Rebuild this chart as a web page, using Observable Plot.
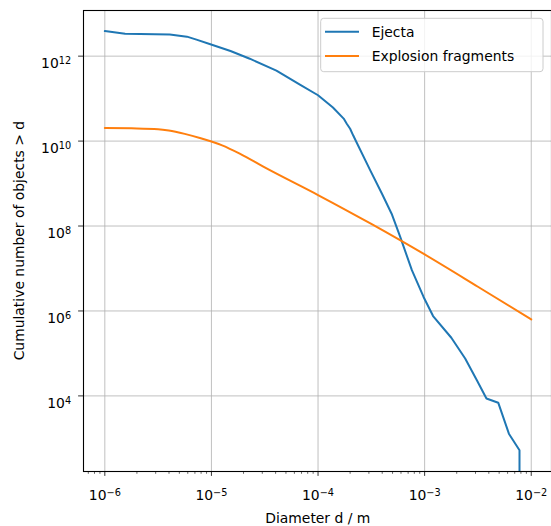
<!DOCTYPE html>
<html><head><meta charset="utf-8">
<script src="https://cdn.jsdelivr.net/npm/d3@7"></script>
<script src="https://cdn.jsdelivr.net/npm/@observablehq/plot@0.6"></script>
<style>
html,body{margin:0;padding:0;background:#fff;overflow:hidden}
svg{display:block}
</style></head><body><div id="chart"></div>
<script>
// Ejecta: diameter (m) and cumulative number > d
const ejectaD = [1e-6, 1.55e-6, 2.14e-6, 4.07e-6, 5.89e-6, 7.24e-6, 9.77e-6, 1.51e-5, 2.29e-5, 4.07e-5, 6.76e-5, 1e-4,
  1.38e-4, 1.74e-4, 1.86e-4, 2.0e-4, 2.14e-4, 2.29e-4, 3.09e-4, 3.98e-4, 4.90e-4, 5.89e-4, 7.59e-4, 9.77e-4, 1.20e-3,
  1.78e-3, 2.40e-3, 3.09e-3, 3.80e-3, 4.90e-3, 6.17e-3, 7.76e-3, 7.76e-3];
const ejectaN = [3.89e12, 3.39e12, 3.31e12, 3.24e12, 2.88e12, 2.45e12, 1.91e12, 1.32e12, 8.71e11, 4.57e11, 2.14e11, 1.20e11,
  6.17e10, 3.39e10, 2.57e10, 1.95e10, 1.35e10, 9.55e9, 2.04e9, 5.75e8, 1.95e8, 5.62e7, 9.12e6, 2.14e6, 7.59e5,
  2.34e5, 7.59e4, 2.34e4, 8.71e3, 6.92e3, 1.29e3, 525, 1];
// Explosion fragments
const fragD = [1e-6, 1.78e-6, 3.16e-6, 3.98e-6, 5.62e-6, 7.94e-6, 1e-5, 1.26e-5, 1.86e-5, 3.16e-5, 1e-4, 3.16e-4, 1e-3, 3.16e-3, 1e-2];
const fragN = [2.04e10, 2.0e10, 1.91e10, 1.78e10, 1.48e10, 1.17e10, 9.77e9, 7.94e9, 5.0e9, 2.40e9, 5.37e8, 1.12e8, 2.14e7, 3.72e6, 6.31e5];

const seriesNames = ["Ejecta", "Explosion fragments"];
const seriesColors = ["#1f77b4", "#ff7f0e"];

const xTicks = [1e-6, 1e-5, 1e-4, 1e-3, 1e-2];
const xTickExp = ["−6", "−5", "−4", "−3", "−2"];
const yTicks = [1e4, 1e6, 1e8, 1e10, 1e12];
const yTickExp = ["4", "6", "8", "10", "12"];
const xLabel = "Diameter d / m";
const yLabel = "Cumulative number of objects > d";

const ejectaRows = ejectaD.map((d, i) => ({series: seriesNames[0], d, n: ejectaN[i]}));
const fragRows = fragD.map((d, i) => ({series: seriesNames[1], d, n: fragN[i]}));

const xDomain = [10 ** -6.2, 10 ** -1.81];
const minorX = [];
for (const t of [1e-7, ...xTicks]) for (let k = 2; k <= 9; k++) {
  const v = t * k;
  if (v > xDomain[0] && v < xDomain[1]) minorX.push(v);
}

const FS = 13.9;
const plot = Plot.plot({
  width: 551, height: 526,
  marginLeft: 83, marginRight: 0, marginTop: 10, marginBottom: 55,
  style: {fontFamily: "DejaVu Sans, sans-serif", fontSize: FS + "px", background: "#fff", color: "#000"},
  x: {type: "log", domain: xDomain},
  y: {type: "log", domain: [10 ** 2.22, 10 ** 13.075]},
  color: {domain: seriesNames, range: seriesColors},
  marks: [
    Plot.gridX(xTicks, {stroke: "#b0b0b0", strokeOpacity: 1, strokeWidth: 0.8}),
    Plot.gridY(yTicks, {stroke: "#b0b0b0", strokeOpacity: 1, strokeWidth: 0.8}),
    Plot.line(ejectaRows, {x: "d", y: "n", stroke: "series", strokeWidth: 2, clip: true}),
    Plot.line(fragRows, {x: "d", y: "n", stroke: "series", strokeWidth: 2, clip: true, curve: "monotone-x"}),
    Plot.frame({stroke: "#000", strokeWidth: 1.1}),
    Plot.axisX(minorX, {tickSize: 2.8, strokeWidth: 0.6, tickFormat: () => "", label: null}),
    Plot.axisX(xTicks, {tickSize: 4.9, strokeWidth: 0.8, tickPadding: 14, label: null,
      tickFormat: d => "10^" + xTickExp[xTicks.indexOf(d)]}),
    Plot.axisY(yTicks, {tickSize: 4.9, strokeWidth: 0.8, tickPadding: 7.5, label: null,
      tickFormat: d => "10^" + yTickExp[yTicks.indexOf(d)]})
  ]
});

const svg = d3.select(plot);
svg.selectAll('g[aria-label$="tick label"] text').each(function() {
  const m = (this.textContent || "").match(/^10\^(.+)$/);
  if (!m) return;
  const isY = this.parentNode.getAttribute("aria-label").startsWith("y");
  const s = d3.select(this);
  if (isY) s.attr("dy", "0.55em");
  s.text(null);
  s.append("tspan").text("10");
  s.append("tspan").attr("dy", "-0.45em").attr("font-size", "70%").text(m[1]);
});

// axis titles
svg.append("text").attr("x", 317.8).attr("y", 518).attr("text-anchor", "middle")
  .attr("dominant-baseline", "central").attr("font-size", FS).text(xLabel);
svg.append("text").attr("transform", "translate(18.5,240.6) rotate(-90)").attr("text-anchor", "middle")
  .attr("dominant-baseline", "central").attr("font-size", FS).text(yLabel);

// legend
const lg = svg.append("g");
lg.append("rect").attr("x", 320.7).attr("y", 18.3).attr("width", 222.3).attr("height", 53.4)
  .attr("rx", 3).attr("fill", "#fff").attr("fill-opacity", 0.8).attr("stroke", "#cccccc").attr("stroke-width", 1);
seriesNames.forEach((name, i) => {
  const y = 31.7 + i * 24.3;
  lg.append("line").attr("x1", 325).attr("x2", 359).attr("y1", y).attr("y2", y)
    .attr("stroke", seriesColors[i]).attr("stroke-width", 2);
  lg.append("text").attr("x", 371.7).attr("y", y).attr("text-anchor", "start").attr("dominant-baseline", "central")
    .attr("font-size", FS).attr("fill", "#000").text(name);
});

document.getElementById("chart").append(plot);
</script></body></html>
